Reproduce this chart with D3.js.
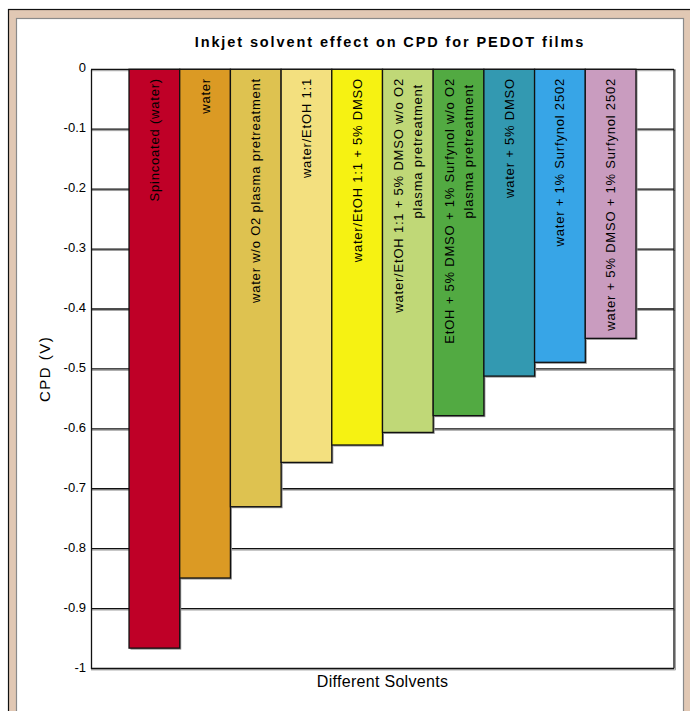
<!DOCTYPE html>
<html>
<head>
<meta charset="utf-8">
<script src="https://cdn.jsdelivr.net/npm/d3@7"></script>
<style>
  html, body { margin: 0; padding: 0; background: #fff; }
  svg { display: block; font-family: Arial, "Liberation Sans", sans-serif; }
</style>
</head>
<body>
<svg id="chart" width="690" height="711"></svg>
<script>
// ---- data ----
const categories = [
  "Spincoated (water)",
  "water",
  "water w/o O2 plasma pretreatment",
  "water/EtOH 1:1",
  "water/EtOH 1:1 + 5% DMSO",
  "water/EtOH 1:1 + 5% DMSO w/o O2|plasma pretreatment",
  "EtOH + 5% DMSO + 1% Surfynol w/o O2|plasma pretreatment",
  "water + 5% DMSO",
  "water + 1% Surfynol 2502",
  "water + 5% DMSO + 1% Surfynol 2502"
];
const cpdValues = [-0.966, -0.849, -0.730, -0.656, -0.627, -0.606, -0.578, -0.512, -0.489, -0.449];
const barColors = ["#BF0027", "#DB9A24", "#DEC250", "#F3E07F", "#F6F212", "#C0D877", "#52AA42", "#3399B1", "#37A5E7", "#C99CBF"];
const yTickValues = [0, -0.1, -0.2, -0.3, -0.4, -0.5, -0.6, -0.7, -0.8, -0.9, -1];
const yTickLabels = ["0", "-0.1", "-0.2", "-0.3", "-0.4", "-0.5", "-0.6", "-0.7", "-0.8", "-0.9", "-1"];
const titleText = "Inkjet solvent effect on CPD for PEDOT films";
const yAxisTitle = "CPD (V)";
const xAxisTitle = "Different Solvents";

// ---- layout ----
const svg = d3.select("#chart");
const plot = { left: 91, right: 674, top: 69.3, bottom: 668.5 };

// frame
svg.append("rect").attr("x", 8.5).attr("y", 9.5).attr("width", 700).attr("height", 720)
  .attr("fill", "#E1C8B4").attr("stroke", "#111").attr("stroke-width", 1.2);
svg.append("rect").attr("x", 16.5).attr("y", 18.5).attr("width", 667).attr("height", 720)
  .attr("fill", "#fff").attr("stroke", "#8a8a8a").attr("stroke-width", 1.2);

const x = d3.scaleBand().domain(categories).range([plot.left, plot.right])
  .paddingInner(0).paddingOuter(0.75);
const y = d3.scaleLinear().domain([-1, 0]).range([plot.bottom, plot.top]);

// gridlines (with light shadow)
const grid = svg.append("g");
grid.selectAll("line.shadow").data(yTickValues).join("line")
  .attr("class", "shadow")
  .attr("x1", plot.left).attr("x2", plot.right + 1.5)
  .attr("y1", d => y(d) + 1.4).attr("y2", d => y(d) + 1.4)
  .attr("stroke", "#9a9a9a").attr("stroke-width", 1);
grid.selectAll("line.g").data(yTickValues).join("line")
  .attr("class", "g")
  .attr("x1", plot.left).attr("x2", plot.right)
  .attr("y1", d => y(d)).attr("y2", d => y(d))
  .attr("stroke", "#111").attr("stroke-width", 1.3);
// right border
svg.append("line").attr("x1", plot.right + 1.4).attr("x2", plot.right + 1.4)
  .attr("y1", y(0)).attr("y2", y(-1) + 1.4).attr("stroke", "#9a9a9a").attr("stroke-width", 1);
svg.append("line").attr("x1", plot.right).attr("x2", plot.right)
  .attr("y1", y(0)).attr("y2", y(-1)).attr("stroke", "#111").attr("stroke-width", 1.3);

// y axis
const yAxis = d3.axisLeft(y).tickValues(yTickValues)
  .tickFormat((d, i) => yTickLabels[i]).tickSize(0).tickPadding(5);
const gy = svg.append("g").attr("transform", `translate(${plot.left},0)`).call(yAxis);
gy.select(".domain").attr("stroke", "#111").attr("stroke-width", 1.3);
gy.selectAll("text").attr("font-size", 13).attr("fill", "#000")
  .attr("font-family", "Arial, 'Liberation Sans', sans-serif").attr("dy", "0.2em");

// bars
const bars = svg.append("g");
bars.selectAll("rect.shadow").data(cpdValues).join("rect")
  .attr("class", "shadow")
  .attr("x", (d, i) => x(categories[i]) + 1.5)
  .attr("y", y(0) + 1.5)
  .attr("width", x.bandwidth())
  .attr("height", d => y(d) - y(0))
  .attr("fill", "#8f8f8f");
bars.selectAll("rect.bar").data(cpdValues).join("rect")
  .attr("class", "bar")
  .attr("x", (d, i) => x(categories[i]))
  .attr("y", y(0))
  .attr("width", x.bandwidth())
  .attr("height", d => y(d) - y(0))
  .attr("fill", (d, i) => barColors[i])
  .attr("stroke", "#111").attr("stroke-width", 1.3);

// bar labels (rotated)
const labels = svg.append("g");
categories.forEach((c, i) => {
  const lines = c.split("|");
  const cx = x(c) + x.bandwidth() / 2;
  lines.forEach((ln, j) => {
    const off = lines.length === 1 ? 0 : (j === 0 ? -9.5 : 9.5);
    const ty = 78 + (lines.length > 1 && j === 1 ? 6 : 0);
    labels.append("text")
      .attr("transform", `translate(${cx + off},${ty}) rotate(-90)`)
      .attr("text-anchor", "end")
      .attr("dy", "0.35em")
      .attr("font-size", 13)
      .attr("letter-spacing", 0.8)
      .attr("fill", "#000")
      .text(ln);
  });
});

// titles
svg.append("text").attr("x", 390).attr("y", 47).attr("text-anchor", "middle")
  .attr("font-size", 14.5).attr("font-weight", "bold").attr("letter-spacing", 1.9)
  .attr("fill", "#000").text(titleText);
svg.append("text").attr("transform", `translate(50,${(plot.top + plot.bottom) / 2}) rotate(-90)`)
  .attr("text-anchor", "middle").attr("font-size", 15).attr("letter-spacing", 1.5)
  .attr("fill", "#000").text(yAxisTitle);
svg.append("text").attr("x", (plot.left + plot.right) / 2).attr("y", 687)
  .attr("text-anchor", "middle").attr("font-size", 16).attr("letter-spacing", 0.3)
  .attr("fill", "#000").text(xAxisTitle);
</script>
</body>
</html>
